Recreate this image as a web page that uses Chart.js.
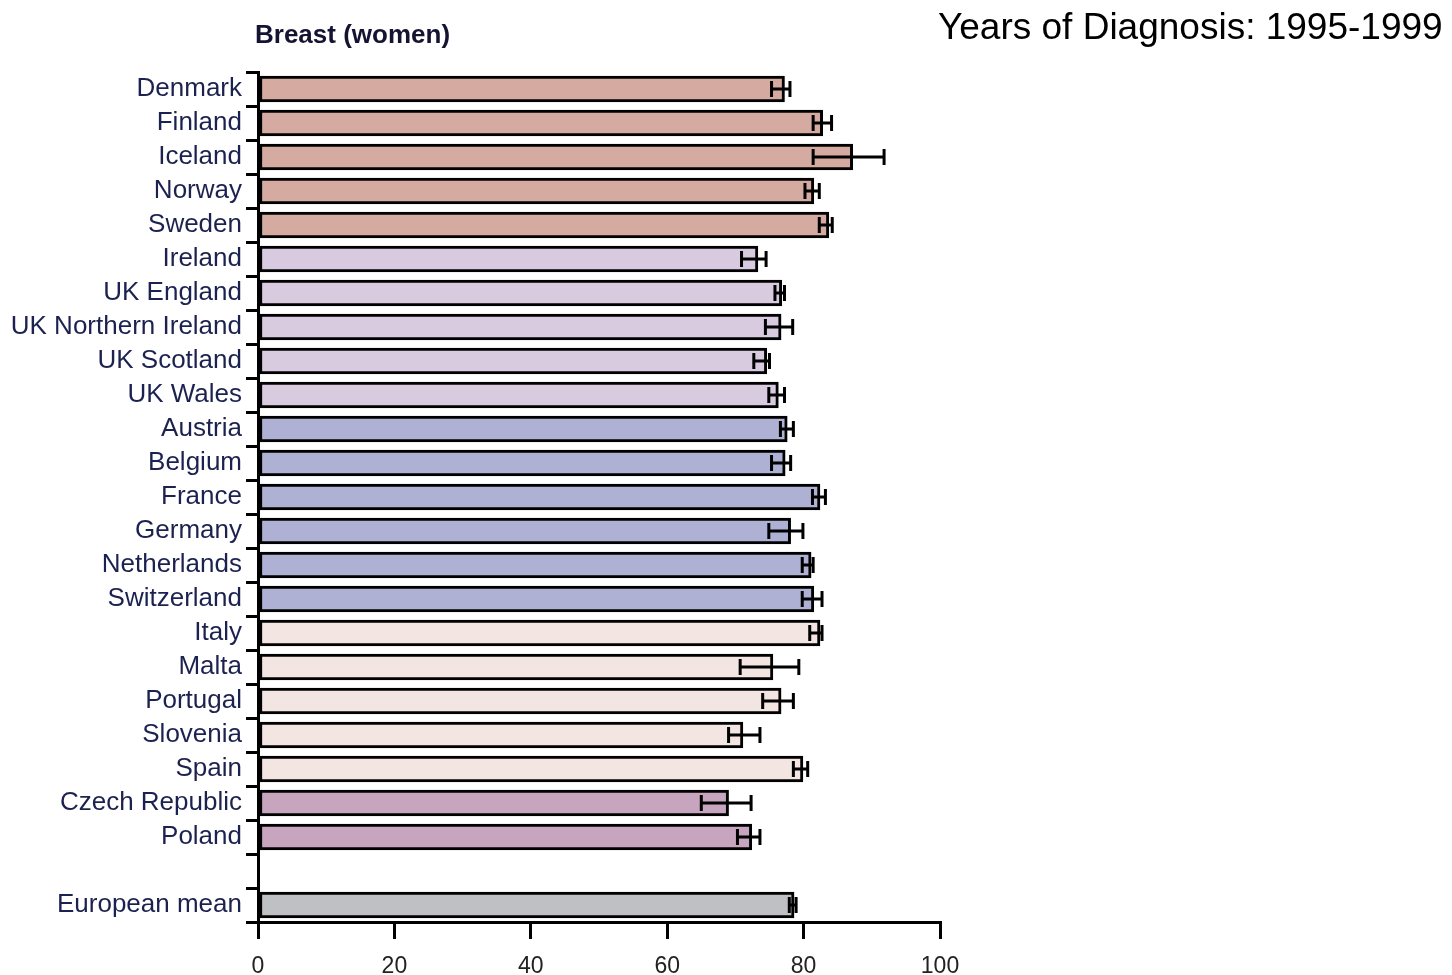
<html>
<head>
<style>
  body { margin: 0; background: #fff; }
  #wrap { position: relative; width: 1452px; height: 975px; }
  .ttl { position: absolute; line-height: 1; white-space: nowrap; font-family: "Liberation Sans", Arial, sans-serif; }
</style>
</head>
<body>
<div id="wrap">
  <div class="ttl" style="left:255px; top:21px; font-size:26px; font-weight:bold; color:#141432;">Breast (women)</div>
  <div class="ttl" style="left:938px; top:8px; font-size:37px; color:#000;">Years of Diagnosis: 1995-1999</div>
  <canvas id="myChart"></canvas>
</div>
<script src="https://cdn.jsdelivr.net/npm/chart.js@4.4.1/dist/chart.umd.min.js"></script>
<script>
// 5-year relative survival (%), with 95% CI
const countries = ["Denmark", "Finland", "Iceland", "Norway", "Sweden",
    "Ireland", "UK England", "UK Northern Ireland", "UK Scotland", "UK Wales",
    "Austria", "Belgium", "France", "Germany", "Netherlands", "Switzerland",
    "Italy", "Malta", "Portugal", "Slovenia", "Spain",
    "Czech Republic", "Poland", "", "European mean"];
const regions = ["north", "north", "north", "north", "north",
    "uk", "uk", "uk", "uk", "uk",
    "central", "central", "central", "central", "central", "central",
    "south", "south", "south", "south", "south",
    "east", "east", "none", "mean"];
const survival = [77.2, 82.8, 87.2, 81.5, 83.7,
    73.3, 76.8, 76.7, 74.6, 76.3,
    77.6, 77.3, 82.4, 78.1, 81.1, 81.5,
    82.4, 75.5, 76.7, 71.1, 79.9,
    69.0, 72.4, null, 78.6];
const ciLow = [75.3, 81.4, 81.4, 80.2, 82.3,
    70.9, 75.8, 74.4, 72.7, 74.9,
    76.6, 75.3, 81.3, 74.9, 79.8, 79.8,
    80.9, 70.7, 74.0, 69.0, 78.5,
    65.0, 70.3, null, 77.9];
const ciHigh = [78.0, 84.1, 91.8, 82.3, 84.2,
    74.5, 77.2, 78.4, 75.0, 77.2,
    78.5, 78.1, 83.2, 79.9, 81.4, 82.7,
    82.7, 79.3, 78.5, 73.6, 80.6,
    72.3, 73.6, null, 78.9];
const xTicks = [0, 20, 40, 60, 80, 100];

const regionColors = {
    north: "#d5aaa0",
    uk: "#d8cadf",
    central: "#aeb1d3",
    south: "#f3e6e2",
    east: "#c7a5bf",
    mean: "#bfc0c4",
    none: "#ffffff"
};

const errorBars = {
    id: "errorBars",
    afterDatasetsDraw(chart) {
        const ctx = chart.ctx;
        const xs = chart.scales.x;
        const meta = chart.getDatasetMeta(0);
        ctx.save();
        ctx.strokeStyle = "#000";
        ctx.lineWidth = 3;
        meta.data.forEach((bar, i) => {
            if (ciLow[i] == null) return;
            const y = bar.y;
            const x1 = xs.getPixelForValue(ciLow[i]);
            const x2 = xs.getPixelForValue(ciHigh[i]);
            ctx.beginPath();
            ctx.moveTo(x1, y); ctx.lineTo(x2, y);
            ctx.moveTo(x1, y - 8); ctx.lineTo(x1, y + 8);
            ctx.moveTo(x2, y - 8); ctx.lineTo(x2, y + 8);
            ctx.stroke();
        });
        ctx.restore();
    }
};

new Chart("myChart", {
    type: "bar",
    data: {
        labels: countries,
        datasets: [{
            data: survival,
            backgroundColor: regions.map(r => regionColors[r]),
            borderColor: "#000",
            borderWidth: 3,
            borderSkipped: false,
            barThickness: 26
        }]
    },
    options: {
        indexAxis: "y",
        responsive: true,
        maintainAspectRatio: false,
        animation: false,
        layout: { padding: { left: 0, top: 72, right: 512, bottom: 0 } },
        plugins: { legend: { display: false }, tooltip: { enabled: false } },
        scales: {
            x: {
                min: 0, max: 100,
                afterBuildTicks: s => { s.ticks = xTicks.map(v => ({ value: v })); },
                afterFit: s => { s.height = 53; },
                grid: { drawOnChartArea: false, color: "#000", lineWidth: 3, tickLength: 17 },
                border: { color: "#000", width: 3 },
                ticks: { color: "#222", padding: 14, font: { family: "Liberation Sans", size: 23 } }
            },
            y: {
                afterFit: s => { s.width = 258; },
                grid: { offset: true, drawOnChartArea: false, color: "#000", lineWidth: 3, tickLength: 12 },
                border: { color: "#000", width: 3 },
                ticks: { color: "#1c2250", padding: 4, autoSkip: false, font: { family: "Liberation Sans", size: 26 } }
            }
        }
    },
    plugins: [errorBars]
});
</script>
</body>
</html>
